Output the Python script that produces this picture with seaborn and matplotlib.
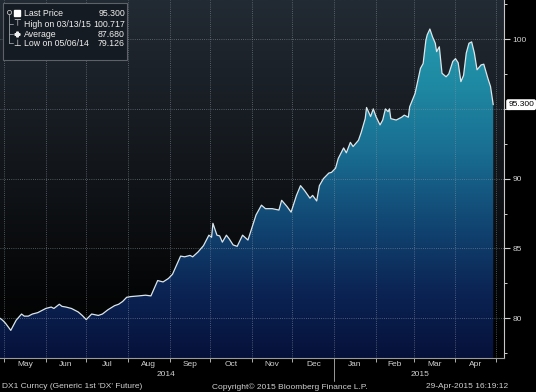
import numpy as np
import pandas as pd
import matplotlib
matplotlib.use("Agg")
import matplotlib.pyplot as plt
import matplotlib.dates as mdates
import matplotlib.transforms as mtransforms
from matplotlib.colors import LinearSegmentedColormap
from matplotlib.patches import Rectangle
import seaborn as sns

# DX1 Curncy, generic 1st 'DX' future
DATES = [
    "2014-04-28", "2014-04-30", "2014-05-02", "2014-05-06", "2014-05-08", "2014-05-10",
    "2014-05-14", "2014-05-16", "2014-05-19", "2014-05-22", "2014-05-26", "2014-05-28",
    "2014-06-01", "2014-06-05", "2014-06-07", "2014-06-09", "2014-06-11", "2014-06-13",
    "2014-06-16", "2014-06-20", "2014-06-25", "2014-06-28", "2014-07-01", "2014-07-05",
    "2014-07-10", "2014-07-13", "2014-07-17", "2014-07-22", "2014-07-25", "2014-07-28",
    "2014-07-31", "2014-08-03", "2014-08-09", "2014-08-14", "2014-08-18", "2014-08-21",
    "2014-08-23", "2014-08-27", "2014-08-31", "2014-09-03", "2014-09-06", "2014-09-09",
    "2014-09-12", "2014-09-16", "2014-09-18", "2014-09-22", "2014-09-26", "2014-09-30",
    "2014-10-02", "2014-10-03", "2014-10-06", "2014-10-08", "2014-10-10", "2014-10-13",
    "2014-10-15", "2014-10-18", "2014-10-21", "2014-10-25", "2014-10-29", "2014-10-31",
    "2014-11-04", "2014-11-08", "2014-11-11", "2014-11-16", "2014-11-21", "2014-11-23",
    "2014-11-27", "2014-11-30", "2014-12-04", "2014-12-07", "2014-12-10", "2014-12-14",
    "2014-12-16", "2014-12-19", "2014-12-21", "2014-12-24", "2014-12-28", "2014-12-30",
    "2015-01-02", "2015-01-04", "2015-01-08", "2015-01-10", "2015-01-13", "2015-01-15",
    "2015-01-19", "2015-01-21", "2015-01-24", "2015-01-25", "2015-01-28", "2015-01-30",
    "2015-02-01", "2015-02-04", "2015-02-06", "2015-02-08", "2015-02-10", "2015-02-11",
    "2015-02-12", "2015-02-16", "2015-02-20", "2015-02-22", "2015-02-25", "2015-02-26",
    "2015-03-02", "2015-03-04", "2015-03-06", "2015-03-08", "2015-03-10", "2015-03-11",
    "2015-03-13", "2015-03-15", "2015-03-17", "2015-03-18", "2015-03-20", "2015-03-22",
    "2015-03-25", "2015-03-27", "2015-03-30", "2015-04-01", "2015-04-03", "2015-04-05",
    "2015-04-07", "2015-04-09", "2015-04-11", "2015-04-13", "2015-04-15", "2015-04-17",
    "2015-04-20", "2015-04-22", "2015-04-25", "2015-04-27", "2015-04-29",
]
PRICE = [
    80.00, 79.85, 79.65, 79.13, 79.50, 79.86,
    80.30, 80.15, 80.15, 80.30, 80.40, 80.50,
    80.70, 80.80, 80.70, 80.85, 81.00, 80.85,
    80.80, 80.70, 80.45, 80.20, 79.90, 80.30,
    80.20, 80.30, 80.60, 80.90, 81.00, 81.20,
    81.50, 81.55, 81.60, 81.65, 81.60, 82.25,
    82.70, 82.60, 82.85, 83.15, 83.80, 84.45,
    84.40, 84.50, 84.40, 84.75, 85.20, 85.95,
    85.80, 86.80, 85.95, 85.90, 85.45, 85.95,
    85.70, 85.25, 85.15, 85.95, 85.60, 86.20,
    87.40, 88.10, 87.85, 87.85, 87.75, 88.45,
    88.00, 87.60, 88.80, 89.50, 89.15, 88.60,
    88.80, 88.40, 89.50, 90.00, 90.40, 90.45,
    90.75, 91.45, 92.20, 91.85, 92.60, 92.30,
    92.75, 93.30, 94.30, 95.10, 94.45, 95.00,
    94.45, 93.85, 94.20, 95.00, 94.80, 95.00,
    94.30, 94.20, 94.40, 94.55, 94.40, 95.15,
    96.10, 97.00, 97.90, 98.25, 99.90, 100.30,
    100.72, 100.15, 99.70, 99.10, 99.45, 97.55,
    97.30, 97.50, 98.40, 98.60, 98.30, 96.95,
    97.40, 99.00, 99.70, 99.80, 99.00, 97.80,
    98.15, 98.20, 97.20, 96.60, 95.30,
]

MONTH_LABELS = ["May", "Jun", "Jul", "Aug", "Sep", "Oct", "Nov", "Dec",
                "Jan", "Feb", "Mar", "Apr"]
YEAR_LABELS = ["2014", "2015"]
YEAR_LABEL_DATES = ["2014-08-29", "2015-03-06"]
Y_TICKS = [80, 85, 90, 95, 100]
Y_TICK_LABELS = ["80", "85", "90", "", "100"]
LAST_PRICE = 95.300
LEGEND_ROWS = [
    ("Last Price", "95.300"),
    ("High on 03/13/15", "100.717"),
    ("Average", "87.680"),
    ("Low on 05/06/14", "79.126"),
]
FOOTER_LEFT = "DX1 Curncy (Generic 1st 'DX' Future)"
FOOTER_MID = "Copyright\u00a9 2015 Bloomberg Finance L.P."
FOOTER_RIGHT = "29-Apr-2015 16:19:12"

sns.set_style("dark")
plt.rcParams["font.family"] = ["Liberation Sans", "DejaVu Sans"]

W, H = 536, 392
fig = plt.figure(figsize=(W / 100, H / 100), dpi=100, facecolor="black")
ax = fig.add_axes([0, 34 / H, 504 / W, 358 / H])

df = pd.DataFrame({"date": pd.to_datetime(DATES), "price": PRICE})
ymin, ymax = 77.15, 102.8
xstart = mdates.date2num(pd.Timestamp("2014-04-28"))
xend = mdates.date2num(pd.Timestamp("2015-05-07"))

# dark background, lighter at the top
bg_cmap = LinearSegmentedColormap.from_list(
    "bg", [(0, "#000000"), (0.2, "#050607"), (0.55, "#13171c"), (1, "#222a33")])
ax.imshow(np.linspace(0, 1, 256).reshape(-1, 1), cmap=bg_cmap, origin="lower",
          extent=[0, 1, 0, 1], transform=ax.transAxes, aspect="auto", zorder=0)

# gradient area under the price line
fill = ax.fill_between(df["date"], df["price"], ymin, color="none", lw=0)
clip = fill.get_paths()[0]
fill_cmap = LinearSegmentedColormap.from_list(
    "fill", [(0, "#06113a"), (0.2, "#0b2454"), (0.4, "#114572"),
             (0.62, "#196e92"), (0.83, "#1f8aa3"), (1, "#2499ae")])
im = ax.imshow(np.linspace(0, 1, 256).reshape(-1, 1), cmap=fill_cmap, origin="lower",
               extent=[xstart, xend, ymin, 101.0], aspect="auto", zorder=1)
im.set_clip_path(clip, transform=ax.transData)

sns.lineplot(data=df, x="date", y="price", ax=ax, color="#dce6ea", lw=0.9, zorder=4)

# grid: month starts and every 5 points
month_starts = mdates.date2num(pd.date_range("2014-05-01", "2015-05-01", freq="MS"))
for m in month_starts:
    ax.axvline(m, color="#8a949e", lw=0.6, ls=(0, (1, 1.6)), alpha=0.7, zorder=2)
for y in Y_TICKS:
    ax.axhline(y, color="#8a949e", lw=0.6, ls=(0, (1, 1.6)), alpha=0.7, zorder=2)

ax.set_xlim(xstart, xend)
ax.set_ylim(ymin, ymax)
ax.set_xlabel("")
ax.set_ylabel("")

# x axis: ticks at month starts, labels mid-month
mids = (month_starts[:-1] + month_starts[1:]) / 2
ax.set_xticks(month_starts)
ax.set_xticklabels([])
ax.set_xticks(mids, minor=True)
ax.set_xticklabels(MONTH_LABELS, minor=True)
ax.tick_params(axis="x", which="major", length=3, width=0.7, color="#b0b0b0",
               direction="out", bottom=True)
ax.tick_params(axis="x", which="minor", length=0, pad=2.5, labelsize=6,
               labelcolor="#d0d0d0")

# y axis on the right
ax.yaxis.tick_right()
ax.set_yticks(Y_TICKS)
ax.set_yticklabels(Y_TICK_LABELS)
ax.set_yticks(np.arange(77.5, 102.6, 2.5), minor=True)
ax.tick_params(axis="y", which="major", length=4, width=0.8, color="#d0d0d0",
               labelsize=6, labelcolor="#d0d0d0", pad=2, right=True)
ax.tick_params(axis="y", which="minor", length=2, width=0.7, color="#d0d0d0", right=True)
ax.grid(False)

for side in ["top", "left"]:
    ax.spines[side].set_visible(False)
ax.spines["right"].set_color("#c8c8c8")
ax.spines["right"].set_linewidth(0.8)
ax.spines["bottom"].set_color("#9a9a9a")
ax.spines["bottom"].set_linewidth(0.8)

# year labels and separator
blend = mtransforms.blended_transform_factory(ax.transData, ax.transAxes)
for label, d in zip(YEAR_LABELS, YEAR_LABEL_DATES):
    ax.text(mdates.date2num(pd.Timestamp(d)), -0.047, label, transform=blend,
            ha="center", va="center", fontsize=6, color="#d0d0d0")
jan = mdates.date2num(pd.Timestamp("2015-01-01"))
ax.plot([jan, jan], [0, -0.065], transform=blend, color="#9a9a9a", lw=0.7,
        clip_on=False)

# last price tag
ax.annotate(f"{LAST_PRICE:.3f}", xy=(1, LAST_PRICE), xycoords=("axes fraction", "data"),
            xytext=(3, 0), textcoords="offset points", fontsize=6, color="black",
            ha="left", va="center",
            bbox=dict(boxstyle="round,pad=0.15", fc="white", ec="white"))

# overlay in pixel coords for the legend box and footer
fax = fig.add_axes([0, 0, 1, 1])
fax.set_xlim(0, W)
fax.set_ylim(H, 0)
fax.axis("off")

fax.add_patch(Rectangle((3, 3), 124, 57, fc="#151b22", ec="#5c6268", lw=0.8))
row_y = [13, 24, 34, 43]
for (name, val), y in zip(LEGEND_ROWS, row_y):
    fax.text(24, y, name, fontsize=6.3, color="#eeeeee", va="center", ha="left")
    fax.text(125, y, val, fontsize=6.3, color="#eeeeee", va="center", ha="right")
fax.plot([9, 9], [14, 43], color="#9aa0a6", lw=0.6)
for y in row_y[1:]:
    fax.plot([9, 13], [y, y], color="#9aa0a6", lw=0.6)
fax.plot(9, 12, marker="o", ms=3, mfc="none", mec="#c0c0c0", mew=0.6)
fax.plot(17, row_y[0], marker="s", ms=5, color="white")
fax.text(17, row_y[1], "\u22a4", fontsize=6.3, color="#eeeeee", ha="center", va="center",
         family="DejaVu Sans")
fax.plot(17, row_y[2], marker="P", ms=3.5, color="#eeeeee")
fax.text(17, row_y[3], "\u22a5", fontsize=6.3, color="#eeeeee", ha="center", va="center",
         family="DejaVu Sans")

fax.text(2, 387, FOOTER_LEFT, fontsize=6, color="#d0d0d0", ha="left", va="center")
fax.text(290, 387, FOOTER_MID, fontsize=6, color="#d0d0d0", ha="center", va="center")
fax.text(508, 387, FOOTER_RIGHT, fontsize=6, color="#d0d0d0", ha="right", va="center")

fig.savefig("out.png", dpi=100, facecolor="black")
